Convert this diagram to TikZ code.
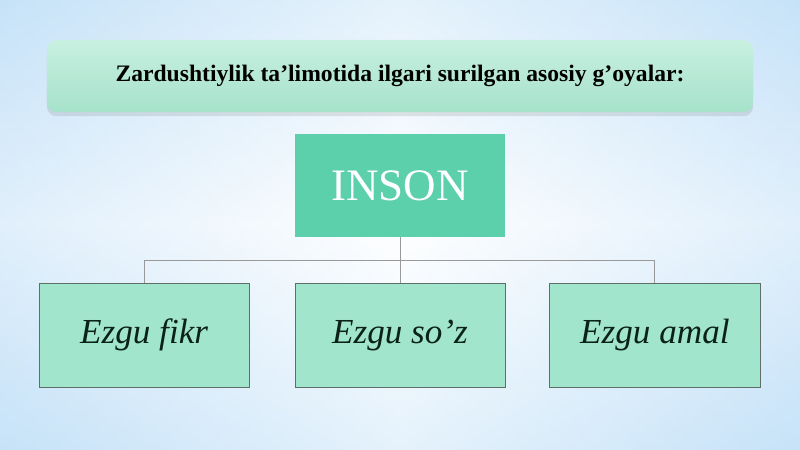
\documentclass[tikz,border=0pt]{standalone}
\usepackage{fontspec}
\setmainfont{Liberation Serif}
\usetikzlibrary{positioning,shadows}
\definecolor{skyedge}{HTML}{B3D8F6}
\definecolor{skytop}{HTML}{D4EAFA}
\definecolor{titletop}{HTML}{C8F0E0}
\definecolor{titlebot}{HTML}{A6E2CB}
\definecolor{rootfill}{HTML}{5CCFAB}
\definecolor{leaffill}{HTML}{A2E5CD}
\definecolor{leafdraw}{HTML}{5E6E68}
\definecolor{leaftext}{HTML}{0A2219}
\tikzset{
	titlebox/.style={
		rectangle,
		rounded corners=7pt,
		top color=titletop,
		bottom color=titlebot,
		minimum width=17.65cm,
		minimum height=1.8cm,
		drop shadow={opacity=0.2, shadow xshift=0pt, shadow yshift=-3pt},
		font=\fontsize{16.8}{20}\selectfont\bfseries,
		text centered},
	rootbox/.style={
		rectangle,
		fill=rootfill,
		minimum width=5.25cm,
		minimum height=2.575cm,
		text=white,
		font=\fontsize{32}{36}\selectfont},
	leafbox/.style={
		rectangle,
		fill=leaffill,
		draw=leafdraw,
		line width=0.6pt,
		minimum width=5.25cm,
		minimum height=2.6cm,
		text=leaftext,
		font=\fontsize{25}{29}\selectfont\itshape},
	busline/.style={
		draw=black!40,
		line width=0.6pt
	}
}
\begin{document}
\begin{tikzpicture}[
			x=0.025cm, y=-0.025cm,
			node distance = 1.14cm,
			]

    % background
    \useasboundingbox (0,0) rectangle (800,449);
    \shade[left color=skyedge, right color=skyedge, middle color=white] (0,0) rectangle (800,449);
    \shade[top color=skytop, bottom color=skytop, middle color=white, opacity=0.6] (0,0) rectangle (800,449);

    \node[titlebox] (TIT) at (400,76) {Zardushtiylik ta’limotida ilgari surilgan asosiy g’oyalar:};
    \node[rootbox] (INS) at (400,185.5) {INSON};
    \node[leafbox, below=of INS] (SOZ) {Ezgu so’z};
    \node[leafbox, left=1.125cm of SOZ] (FIK) {Ezgu fikr};
    \node[leafbox, right=1.1cm of SOZ] (AML) {Ezgu amal};

    \path (INS.south) -- (SOZ.north) coordinate[midway] (BUS);
    \draw[busline] (INS.south) -- (SOZ.north);
    \draw[busline] (FIK.north) |- (BUS) -| (AML.north);
\end{tikzpicture}
\end{document}
